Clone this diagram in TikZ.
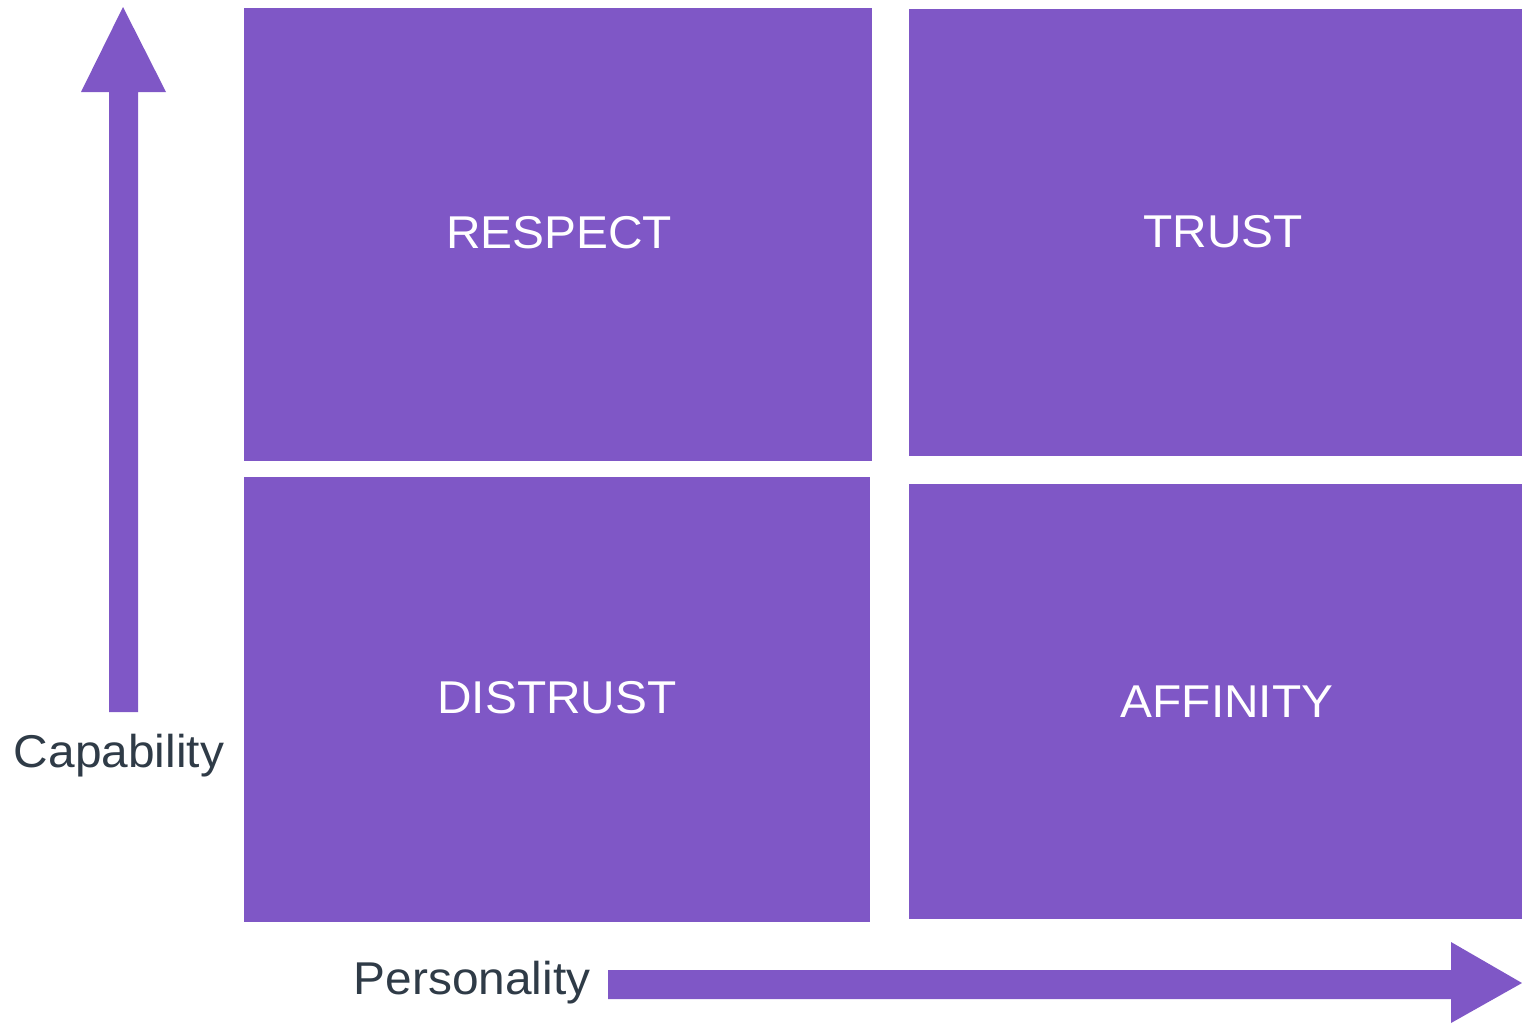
\documentclass[tikz,border=0pt]{standalone}
\usepackage{fontspec}
\setmainfont[FakeStretch=1.04]{Liberation Sans}
\begin{document}
\begin{tikzpicture}[x=1pt,y=-1pt,
  quad/.style={fill=quadfill,draw=none},
  quadlabel/.style={anchor=base,text=white,inner sep=0pt,font=\fontsize{46}{55}\selectfont},
  axislabel/.style={anchor=base,text=axistext,inner sep=0pt,font=\fontsize{46}{55}\selectfont},
  axisarrow/.style={fill=quadfill,draw=none}]
\definecolor{quadfill}{HTML}{7F57C6}
\definecolor{axistext}{HTML}{2F3B47}
\useasboundingbox (0,0) rectangle (1522,1023);

% quadrants
\fill[quad] (244,8) rectangle (872,461);
\fill[quad] (909,9) rectangle (1522,456);
\fill[quad] (244,477) rectangle (870,922);
\fill[quad] (909,484) rectangle (1522,919);

\node[quadlabel] (respect)  at (559,248) {RESPECT};
\node[quadlabel] (trust)    at (1223,247) {TRUST};
\node[quadlabel] (distrust) at (557,713) {DISTRUST};
\node[quadlabel] (affinity) at (1227,717) {AFFINITY};

% capability axis (upward block arrow)
\fill[axisarrow] (109,712) -- (109,92) -- (81,92) -- (123,7) -- (166,92)
  -- (138,92) -- (138,712) -- cycle;
\node[axislabel] (capability) at (119,767) {Capability};

% personality axis (rightward block arrow)
\fill[axisarrow] (608,970) -- (1451,970) -- (1451,942) -- (1522,983)
  -- (1451,1023) -- (1451,999) -- (608,999) -- cycle;
\node[axislabel] (personality) at (472,994) {Personality};
\end{tikzpicture}
\end{document}
